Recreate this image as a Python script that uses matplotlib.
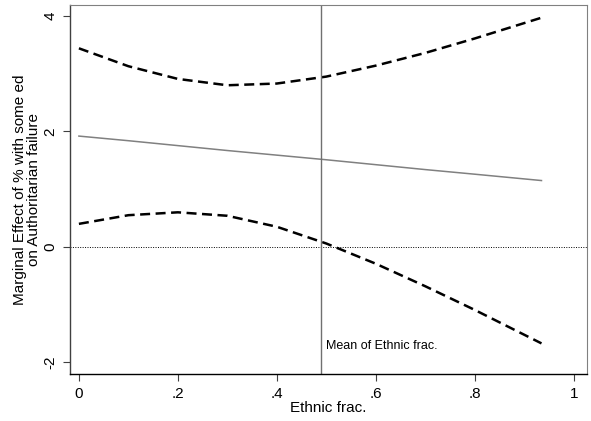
import matplotlib
matplotlib.use("Agg")
import matplotlib.pyplot as plt

plt.rcParams['font.family'] = ['Liberation Sans', 'DejaVu Sans']

ethnic = [0.0, 0.1, 0.2, 0.3, 0.4, 0.5, 0.6, 0.7, 0.8, 0.935]
effect = [1.92, 1.84, 1.755, 1.67, 1.59, 1.51, 1.425, 1.34, 1.26, 1.15]
upper = [3.44, 3.13, 2.91, 2.80, 2.83, 2.95, 3.14, 3.36, 3.61, 3.97]
lower = [0.40, 0.55, 0.60, 0.54, 0.35, 0.06, -0.29, -0.68, -1.09, -1.67]
mean_ethnic = 0.49
xticks = [0, 0.2, 0.4, 0.6, 0.8, 1.0]
xticklabels = ['0', '.2', '.4', '.6', '.8', '1']
yticks = [-2, 0, 2, 4]
yticklabels = ['-2', '0', '2', '4']

fig = plt.figure(figsize=(5.91, 4.21), dpi=100)
ax = fig.add_axes([70/591, 1-374/421, 517/591, 369/421])

ax.plot(ethnic, upper, color='black', lw=1.8, ls=(0, (4, 2.2)))
ax.plot(ethnic, lower, color='black', lw=1.8, ls=(0, (4, 2.2)))
ax.plot(ethnic, effect, color='#808080', lw=1.1)
ax.axhline(0, color='black', lw=0.7, ls=(0, (1, 1.5)))
ax.axvline(mean_ethnic, color='#707070', lw=1.0)
ax.text(mean_ethnic + 0.01, -1.72, 'Mean of Ethnic frac.', fontsize=9, va='center', ha='left')

ax.set_xlim(-0.018, 1.027)
ax.set_ylim(-2.2, 4.19)
ax.set_xticks(xticks)
ax.set_xticklabels(xticklabels, fontsize=11)
ax.set_yticks(yticks)
ax.set_yticklabels(yticklabels, fontsize=11, rotation=90, va='center')
ax.tick_params(direction='out', length=5, width=0.8, color='#404040', pad=4)
for s in ['top', 'right']:
    ax.spines[s].set_color('#808080')
    ax.spines[s].set_linewidth(0.8)
ax.spines['left'].set_color('#404040')
ax.spines['bottom'].set_color('black')
ax.spines['left'].set_linewidth(1.0)
ax.spines['bottom'].set_linewidth(1.0)

ax.set_xlabel('Ethnic frac.', fontsize=11, labelpad=0)
ax.set_ylabel('Marginal Effect of % with some ed\non Authoritarian failure', fontsize=11, labelpad=2, linespacing=1.0)

fig.savefig('out.png', dpi=100)
